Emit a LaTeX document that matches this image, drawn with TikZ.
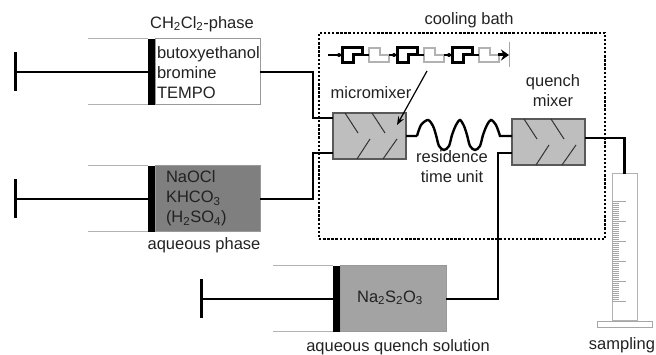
\documentclass[tikz,border=0pt]{standalone}
\usepackage{fontspec}
\setmainfont{Liberation Sans}
\usetikzlibrary{positioning, arrows.meta}
\definecolor{fillB}{HTML}{7F7F7F}
\definecolor{fillC}{HTML}{A3A3A3}
\definecolor{fillM}{HTML}{BEBEBE}
\definecolor{inkT}{HTML}{222222}
\begin{document}
\begin{tikzpicture}[
    x=1pt,
    y=-1pt,
    >=Stealth,
    every node/.style={font=\fontsize{16.5}{20}\selectfont, text=inkT, inner sep=0pt, outer sep=0pt},
    body/.style={rectangle, draw=gray!80, line width=1pt, minimum height=66pt},
    piston/.style={rectangle, fill=black, minimum width=7pt, minimum height=66pt},
    handle/.style={rectangle, fill=black, minimum width=3pt, minimum height=39pt},
    barrel/.style={draw=gray!60, line width=1pt},
    rod/.style={draw=black, line width=1.5pt},
    tube/.style={draw=black, line width=2.4pt},
    mixer/.style={rectangle, draw=gray!70!black, line width=1.2pt, fill=fillM, minimum width=73pt, minimum height=46pt},
    vane/.style={draw=black!80, line width=1pt},
    chanA/.style={draw=black, line width=3pt},
    chanB/.style={draw=gray!60, line width=2.7pt},
    stem/.style={draw=black, line width=1.2pt},
    tick/.style={draw=gray!70, line width=0.6pt}
]
\useasboundingbox (0,0) rectangle (656,355);

%---------------- Cooling bath ----------------
\node[rectangle, draw=black, line width=2.7pt, dash pattern=on 2.4pt off 1.7pt, minimum width=286pt, minimum height=206pt] (bath) at (462,136) {};
\node (bathlabel) at (469,20) {cooling bath};

%---------------- Syringes ----------------
\foreach \name/\xb/\xw/\y/\xh/\col in {syrA/207.5/105/72/15/white, syrB/207.5/105/199/15/fillB, syrC/393/106/299/201/fillC} {
    \node[body, fill=\col, minimum width=\xw pt] (\name) at (\xb,\y) {};
    \node[piston, left=0pt of \name] (\name-piston) {};
    \node[handle] (\name-handle) at (\xh,\y) {};
    \draw[rod] (\name-handle) -- (\name-piston);
    \draw[barrel] (\name-piston.north west) -- ++(-60,0);
    \draw[barrel] (\name-piston.south west) -- ++(-60,0);
}
\node[align=left, anchor=west] (txtA) at (157,73) {butoxyethanol\\bromine\\TEMPO};
\node[align=left, anchor=west] (txtB) at (166,198.5) {NaOCl\\KHCO\textsubscript{3}\\(H\textsubscript{2}SO\textsubscript{4})};
\node (txtC) at (390,298) {Na\textsubscript{2}S\textsubscript{2}O\textsubscript{3}};
\node (labA) at (202,24) {CH\textsubscript{2}Cl\textsubscript{2}-phase};
\node (labB) at (204,245) {aqueous phase};
\node (labC) at (398,347) {aqueous quench solution};

%---------------- Mixers ----------------
\node[mixer] (micromixer) at (369.5,136) {};
\node[mixer] (quenchmixer) at (548.5,142) {};
\foreach \m in {micromixer, quenchmixer} {
    \draw[vane] ([shift={(12,0)}]\m.north west) -- ++(13,20);
    \draw[vane] ([shift={(39,0)}]\m.north west) -- ++(13,20);
    \draw[vane] ([shift={(24,46)}]\m.north west) -- ++(13,-20);
    \draw[vane] ([shift={(50,46)}]\m.north west) -- ++(14,-20);
}
\node (labM) at (371,93) {micromixer};
\node[align=center] (labQ) at (553,90.5) {quench\\mixer};
\node[align=center] (labR) at (452,167) {residence\\time unit};

%---------------- Channel sketch ----------------
\foreach \x in {342,397,452} {
    \draw[chanA] (\x,48) -- (\x+20,48) -- (\x+20,55) -- (\x+11,55) -- (\x+11,63) -- (\x,63) -- cycle;
    \draw[chanB] (\x+27,48) -- (\x+38,48) -- (\x+38,55) -- (\x+47,55) -- (\x+47,62) -- (\x+27,62) -- cycle;
    \draw[stem] (\x+20,55) -- (\x+27,55);
    \draw[stem] (\x+47,55) -- (\x+55,55);
    \fill[black] (\x-3,55) circle (2);
}
\coordinate (chanstart) at (328,55);
\coordinate (chanfirst) at (342,55);
\coordinate (chanend) at (509,55);
\coordinate (chanlast) at (498,55);
\coordinate (wallN) at (509,42);
\coordinate (wallS) at (509,67);
\draw[stem] (chanstart) -- (chanfirst);
\draw[-{Stealth[length=8pt,width=11pt]}, draw=black, line width=3pt] (chanlast) -- (chanend);
\draw[draw=gray!70, line width=0.8pt] (wallN) -- (wallS);
\coordinate (arrowfrom) at (427,71);
\coordinate (arrowto) at (397,125);
\draw[->, draw=black, line width=1.2pt] (arrowfrom) -- (arrowto);

%---------------- Sampling cylinder ----------------
\node[rectangle, draw=gray!60, line width=1pt, minimum width=25pt, minimum height=147pt] (cylinder) at (624.5,247.5) {};
\node[rectangle, draw=gray!70, line width=0.8pt, fill=white, minimum width=55pt, minimum height=6pt] (cylbase) at (624.5,324) {};
\foreach \k in {0,...,50} {
    \draw[tick] (612,201+2*\k) -- ++(7,0);
}
\foreach \k in {0,...,5} {
    \draw[tick, line width=0.8pt] (612,201+20*\k) -- ++(14,0);
}
\node (labS) at (622,345) {sampling};

%---------------- Connections ----------------
\coordinate (inA) at (333,118);
\coordinate (inB) at (333,153);
\coordinate (inQ) at (512,136);
\coordinate (inC) at (512,153);
\coordinate (outQ) at (585,138);
\draw[tube] (syrA.east) -- ++(53,0) |- (inA);
\draw[tube] (syrB.east) -- ++(53,0) |- (inB);
\draw[tube] (syrC.east) -- ++(52,0) |- (inC);
\draw[tube] (outQ) -| (cylinder.north);
\draw[tube] (micromixer.east) -- (417,136) plot[smooth] coordinates {(417,136) (421,125) (428,120) (433,126) (436,135) (439,146) (444,150) (449,146) (452,135) (456,125) (460,120) (464,126) (467,135) (470,146) (475,150) (480,146) (483,135) (487,125) (491,120) (496,125) (500,136)} -- (inQ);
\end{tikzpicture}
\end{document}
